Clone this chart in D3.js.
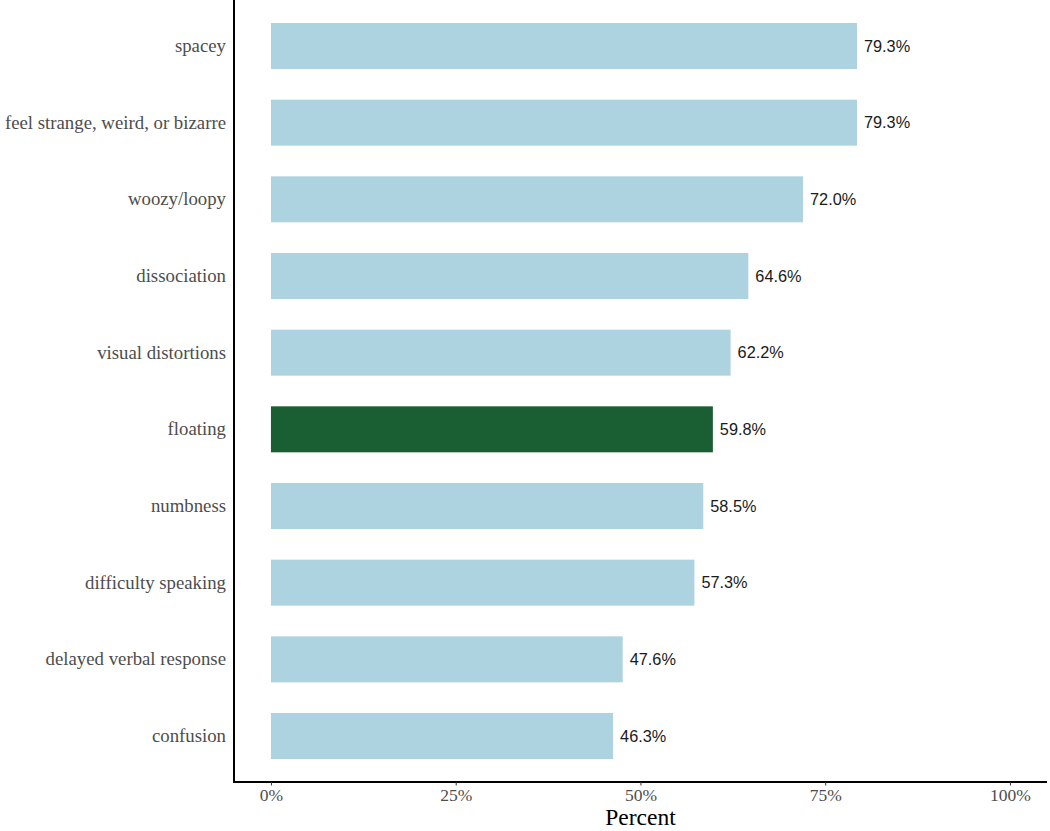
<!DOCTYPE html>
<html>
<head>
<meta charset="utf-8">
<script src="https://cdn.jsdelivr.net/npm/d3@7"></script>
<style>
html,body{margin:0;padding:0;background:#fff;}
svg{display:block;}
</style>
</head>
<body>
<svg id="chart" width="1050" height="831"></svg>
<script>
const categories = ["spacey","feel strange, weird, or bizarre","woozy/loopy","dissociation","visual distortions","floating","numbness","difficulty speaking","delayed verbal response","confusion"];
const values = [79.3,79.3,72.0,64.6,62.2,59.8,58.5,57.3,47.6,46.3];
const highlight = ["floating"];
const xTicks = [0,25,50,75,100];
const xTickLabels = ["0%","25%","50%","75%","100%"];

const svg = d3.select("#chart");
const panel = {left:234, right:1047, top:0, bottom:782};

const x = d3.scaleLinear().domain([-5, 105]).range([234, 234 + (1010-271)*1.1]);

const step = (panel.bottom - panel.top) / (categories.length - 1 + 1.2);
const y = d3.scaleBand().domain(categories)
  .range([panel.top + 0.6*step - step/2, panel.top + 0.6*step - step/2 + step*categories.length])
  .paddingInner(0.4).paddingOuter(0.2);

const data = categories.map((c,i)=>({cat:c, v:values[i]}));

svg.append("g").selectAll("rect").data(data).enter().append("rect")
  .attr("x", x(0))
  .attr("y", d=>y(d.cat))
  .attr("width", d=>x(d.v)-x(0))
  .attr("height", y.bandwidth())
  .attr("fill", d=> highlight.includes(d.cat) ? "#1a5e33" : "#add3e0");

svg.append("g").selectAll("text").data(data).enter().append("text")
  .attr("x", d=>x(d.v)+7)
  .attr("y", d=>y(d.cat)+y.bandwidth()/2)
  .attr("dy","0.35em")
  .attr("font-family","Liberation Sans, Arial, sans-serif")
  .attr("font-size","16.3px")
  .attr("fill","#1a1a1a")
  .text(d=>d.v.toFixed(1)+"%");

const yAxis = svg.append("g").attr("transform",`translate(${panel.left},0)`)
  .call(d3.axisLeft(y).tickSize(0).tickPadding(8));
yAxis.select(".domain").attr("stroke","#000").attr("stroke-width",2).attr("d",`M0,${panel.top}V${panel.bottom}`);
yAxis.selectAll("text").attr("font-family","Liberation Serif, Times New Roman, serif").attr("font-size","18.8px").attr("fill","#4d4d4d");

const xAxis = svg.append("g").attr("transform",`translate(0,${panel.bottom})`)
  .call(d3.axisBottom(x).tickValues(xTicks).tickFormat((d,i)=>xTickLabels[i]).tickSize(3.5).tickPadding(3));
xAxis.select(".domain").attr("stroke","#000").attr("stroke-width",2).attr("d",`M${panel.left-1},0H${panel.right}`);
xAxis.selectAll(".tick line").attr("stroke","#333").attr("stroke-width",1);
xAxis.selectAll("text").attr("font-family","Liberation Serif, Times New Roman, serif").attr("font-size","17.5px").attr("fill","#4d4d4d");

svg.append("text")
  .attr("x", x(50))
  .attr("y", 825)
  .attr("text-anchor","middle")
  .attr("font-family","Liberation Serif, Times New Roman, serif")
  .attr("font-size","23.5px")
  .attr("fill","#000")
  .text("Percent");
</script>
</body>
</html>
